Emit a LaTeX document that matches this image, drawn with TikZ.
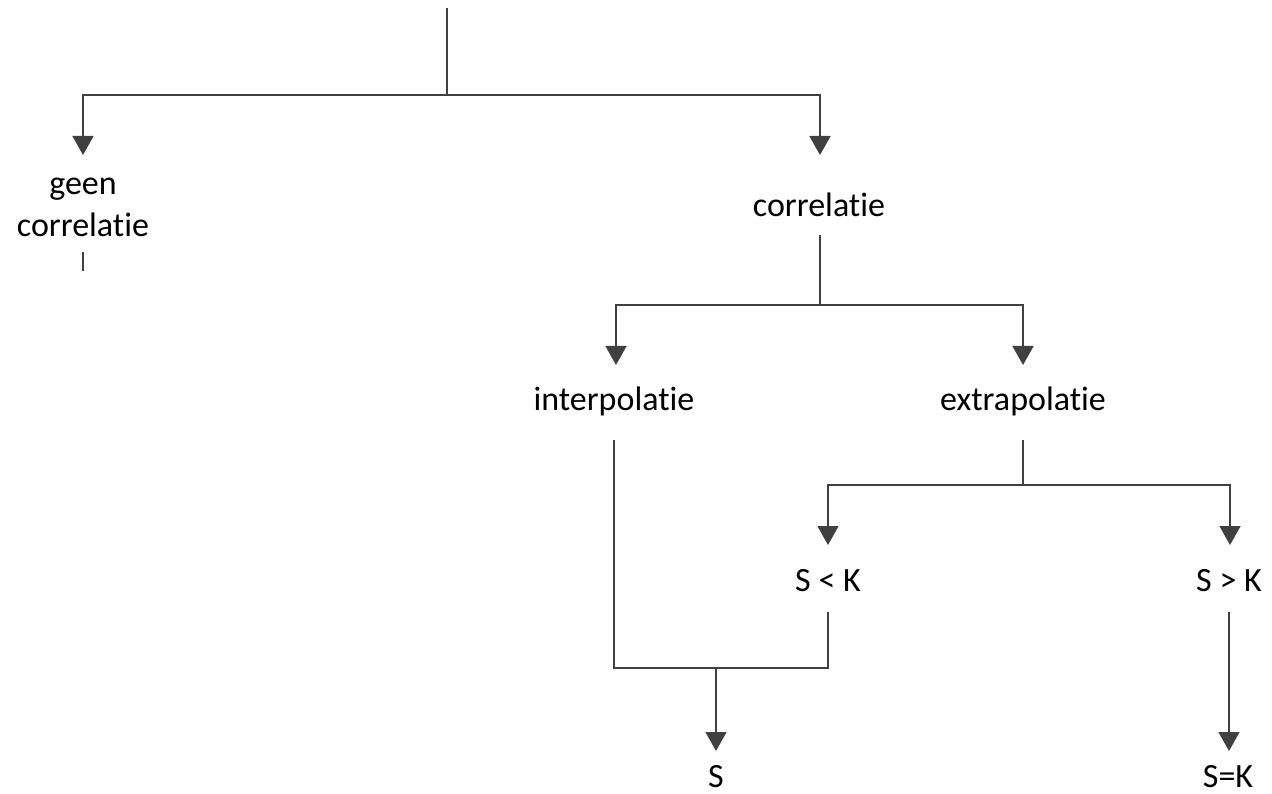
\documentclass[tikz,border=0pt]{standalone}
\usepackage{fontspec}
\setmainfont{Carlito}[Ligatures={NoCommon}]
\usetikzlibrary{arrows.meta}
\definecolor{linegray}{HTML}{404040}
\begin{document}
\begin{tikzpicture}[x=1pt,y=-1pt,
  label/.style={anchor=base,inner sep=0pt,font=\fontsize{34}{42}\selectfont,text=black},
  wire/.style={draw=linegray,line width=1.6pt},
  flow/.style={wire,-{Triangle[width=21pt,length=19pt]}}]
  \useasboundingbox (0,0) rectangle (1272,794);

  % labels (multi-line node: base is the last line)
  \node[label,align=center] (geen) at (83,237) {geen\\correlatie};
  \node[label] (corr)  at (819,217) {correlatie};
  \node[label] (inter) at (614,410) {interpolatie};
  \node[label] (extra) at (1023,410) {extrapolatie};
  \node[label] (lt)    at (828,591) {S < K};
  \node[label] (gt)    at (1229,591) {S > K};
  \node[label,text depth=0pt] (s)  at (716,787) {S};
  \node[label,text depth=0pt] (sk) at (1228,787) {S=K};

  % connector end points
  \coordinate (top)      at (447,8);
  \coordinate (split1)   at (447,95);
  \coordinate (geen-in)  at (83,155);
  \coordinate (corr-in)  at (820,155);
  \coordinate (geen-out) at (83,252);
  \coordinate (geen-end) at (83,271);
  \coordinate (corr-out) at (820,235);
  \coordinate (split2)   at (820,305);
  \coordinate (inter-in) at (616,365);
  \coordinate (extra-in) at (1023,365);
  \coordinate (inter-out) at (614,440);
  \coordinate (extra-out) at (1023,440);
  \coordinate (split3)   at (1023,485);
  \coordinate (lt-in)    at (828,545);
  \coordinate (gt-in)    at (1230,545);
  \coordinate (lt-out)   at (828,612);
  \coordinate (gt-out)   at (1229,612);
  \coordinate (merge)    at (716,668);
  \coordinate (s-in)     at (716,751);
  \coordinate (sk-in)    at (1229,751);

  % tree
  \draw[wire] (top) -- (split1);
  \draw[flow] (split1) -| (geen-in);
  \draw[flow] (split1) -| (corr-in);
  \draw[wire] (geen-out) -- (geen-end);
  \draw[wire] (corr-out) -- (split2);
  \draw[flow] (split2) -| (inter-in);
  \draw[flow] (split2) -| (extra-in);
  \draw[wire] (extra-out) -- (split3);
  \draw[flow] (split3) -| (lt-in);
  \draw[flow] (split3) -| (gt-in);
  \draw[wire] (inter-out) |- (merge) -| (lt-out);
  \draw[flow] (merge) -- (s-in);
  \draw[flow] (gt-out) -- (sk-in);
\end{tikzpicture}
\end{document}
